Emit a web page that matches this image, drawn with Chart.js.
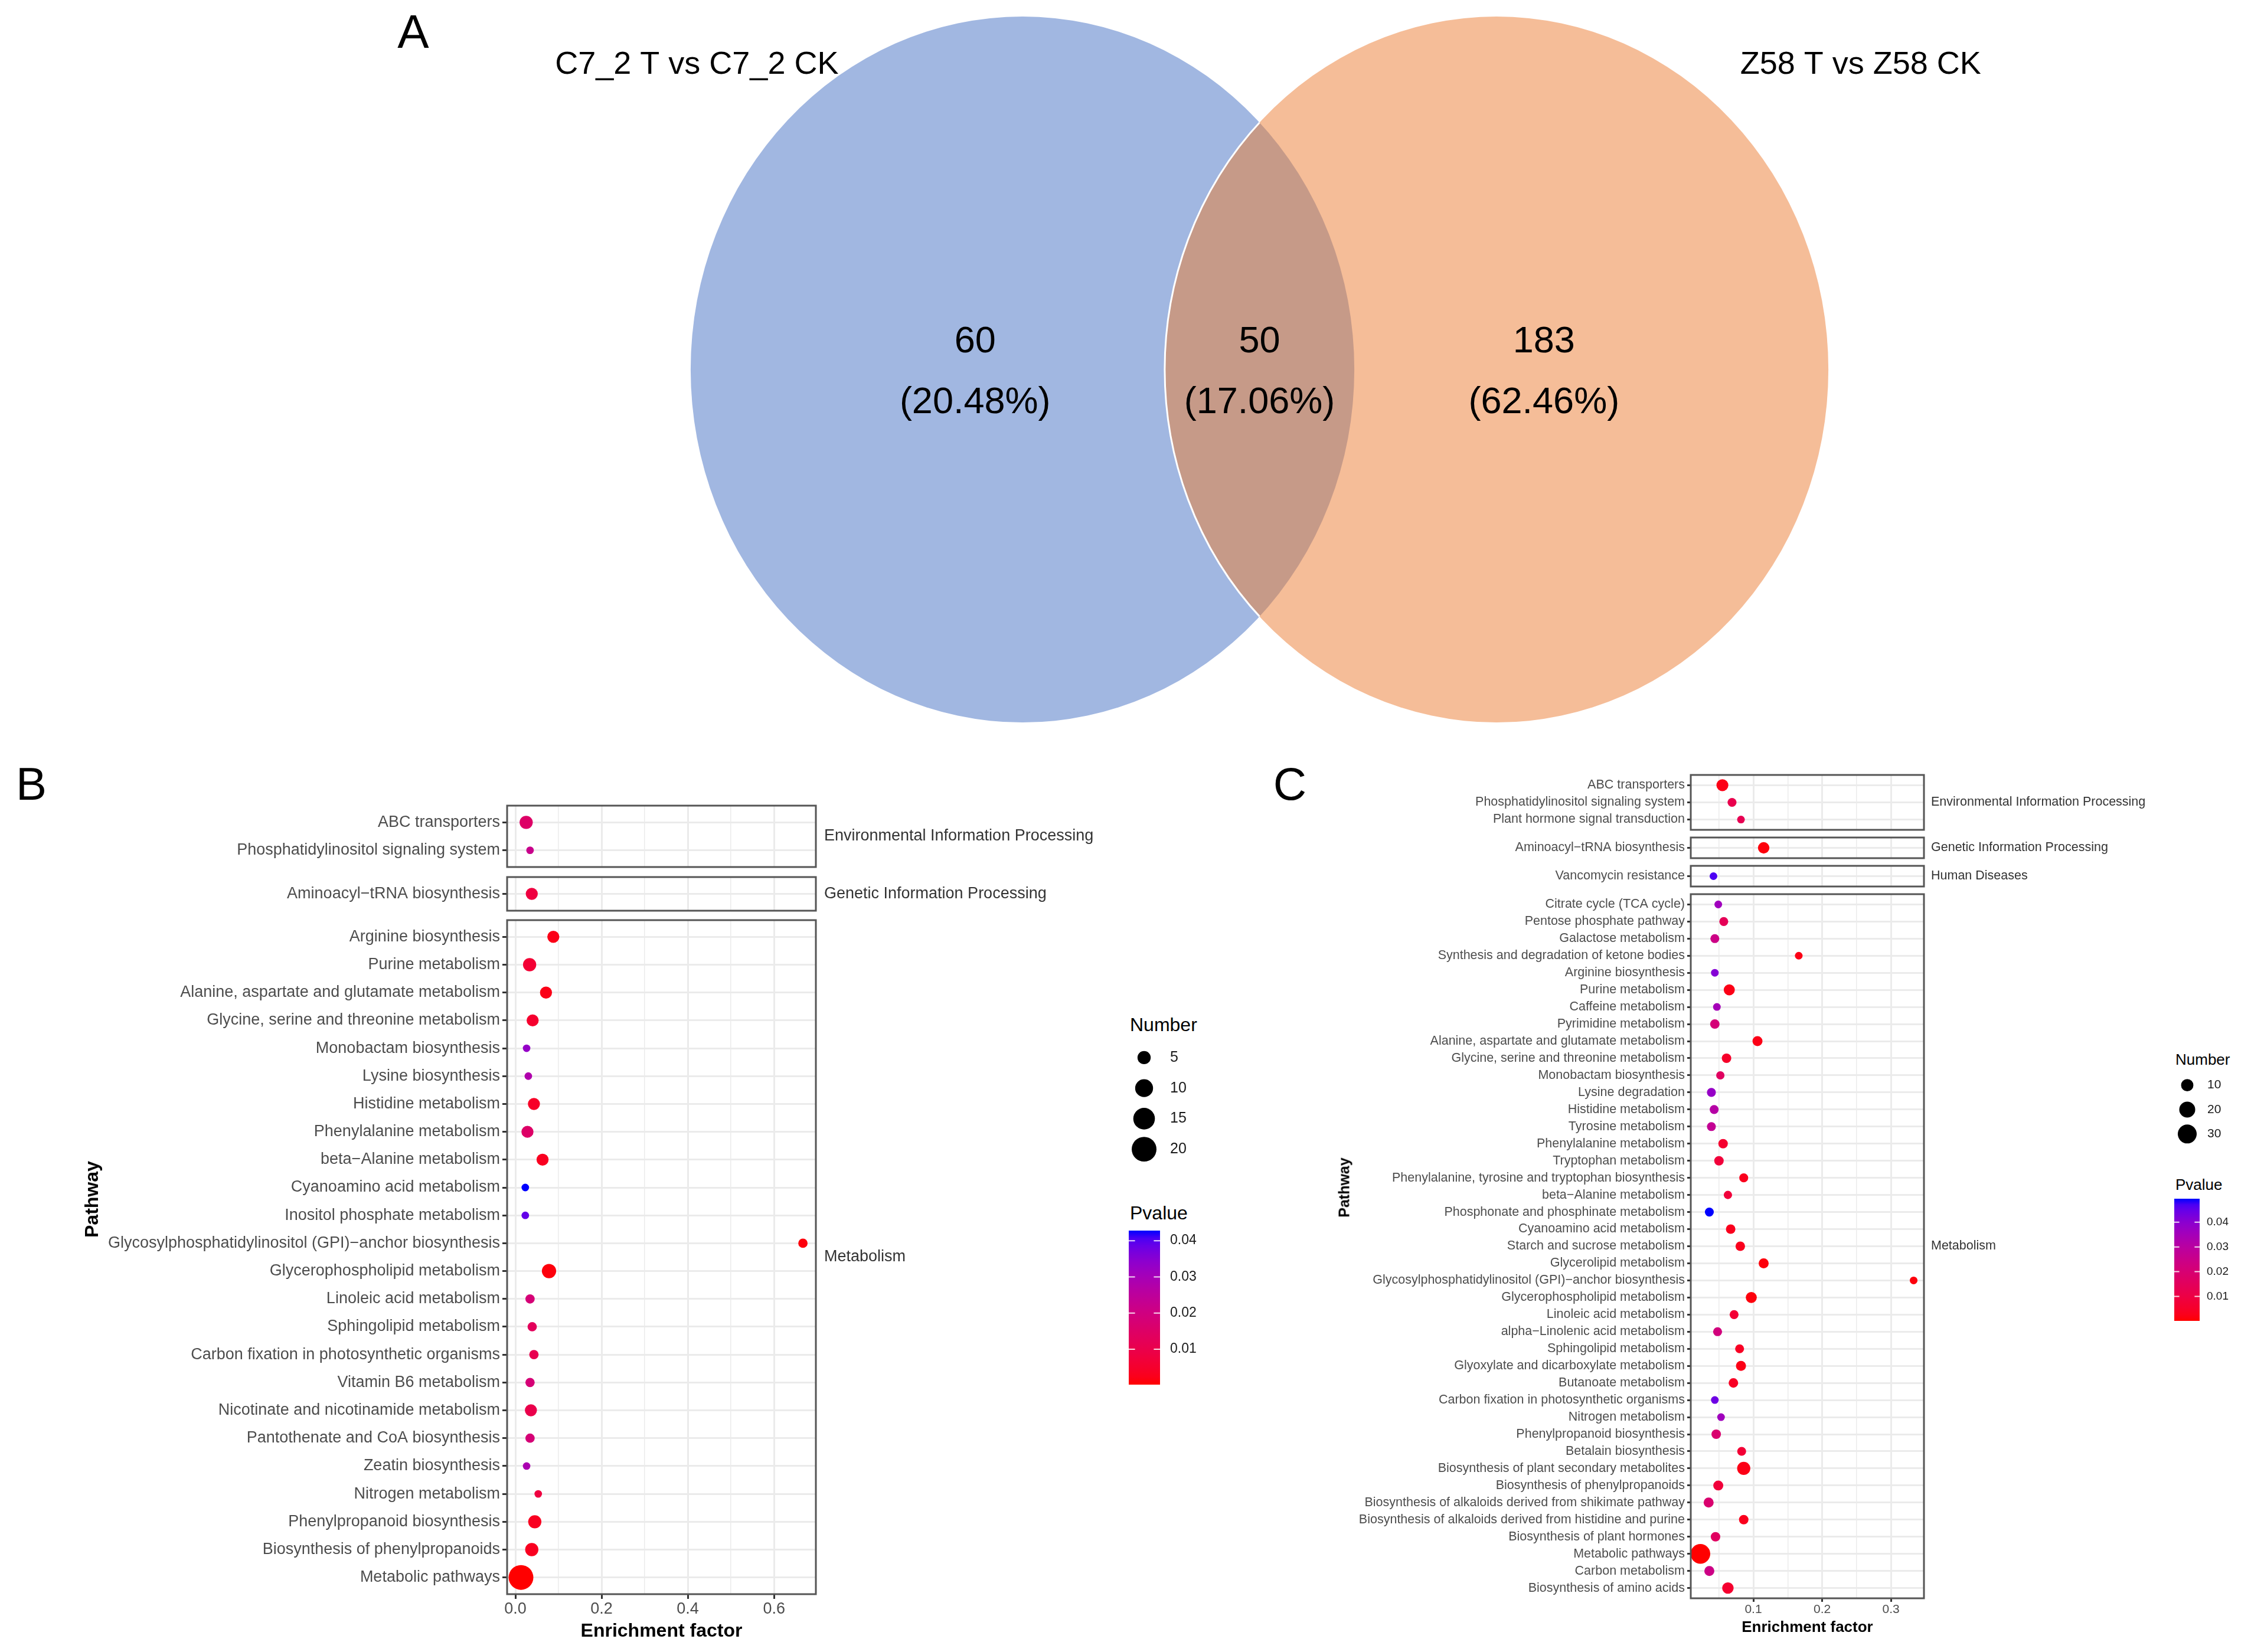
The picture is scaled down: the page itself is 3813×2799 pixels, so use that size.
<!DOCTYPE html>
<html>
<head>
<meta charset="utf-8">
<script src="https://cdn.jsdelivr.net/npm/chart.js@4.4.1/dist/chart.umd.min.js"></script>
<style>
html, body { margin: 0; padding: 0; background: #fff; }
#page { position: relative; width: 3813px; height: 2799px; overflow: hidden; font-family: "Liberation Sans", Arial, sans-serif; }
#page canvas { position: absolute; }
.txt { position: absolute; white-space: nowrap; line-height: 1; color: #000; }
</style>
</head>
<body>
<div id="page"></div>
<script>
// ---------- A: Venn ----------
const vennSets = ['C7_2 T vs C7_2 CK', 'Z58 T vs Z58 CK'];
const vennCounts = [60, 50, 183]; // only left, shared, only right

// ---------- B: KEGG enrichment, C7_2 ----------
const groupsB = ['Environmental Information Processing', 'Genetic Information Processing', 'Metabolism'];
const groupSizeB = [2, 1, 24];
const pathB = [
  'ABC transporters', 'Phosphatidylinositol signaling system',
  'Aminoacyl\u2212tRNA biosynthesis',
  'Arginine biosynthesis', 'Purine metabolism', 'Alanine, aspartate and glutamate metabolism',
  'Glycine, serine and threonine metabolism', 'Monobactam biosynthesis', 'Lysine biosynthesis',
  'Histidine metabolism', 'Phenylalanine metabolism', 'beta\u2212Alanine metabolism',
  'Cyanoamino acid metabolism', 'Inositol phosphate metabolism',
  'Glycosylphosphatidylinositol (GPI)\u2212anchor biosynthesis', 'Glycerophospholipid metabolism',
  'Linoleic acid metabolism', 'Sphingolipid metabolism', 'Carbon fixation in photosynthetic organisms',
  'Vitamin B6 metabolism', 'Nicotinate and nicotinamide metabolism', 'Pantothenate and CoA biosynthesis',
  'Zeatin biosynthesis', 'Nitrogen metabolism', 'Phenylpropanoid biosynthesis',
  'Biosynthesis of phenylpropanoids', 'Metabolic pathways'
];
const efB = [0.025, 0.034, 0.038, 0.088, 0.033, 0.071, 0.040, 0.026, 0.030, 0.043, 0.028, 0.063, 0.023, 0.023,
  0.667, 0.078, 0.034, 0.039, 0.043, 0.034, 0.036, 0.034, 0.026, 0.053, 0.045, 0.038, 0.013];
const numB = [5, 1, 4, 4, 5, 4, 4, 1, 1, 4, 4, 4, 1, 1, 2, 6, 2, 2, 2, 2, 4, 2, 1, 1, 5, 5, 20];
const pB = [0.015, 0.022, 0.008, 0.002, 0.006, 0.002, 0.005, 0.033, 0.028, 0.004, 0.015, 0.003, 0.0428, 0.039,
  0.001, 0.001, 0.018, 0.013, 0.011, 0.018, 0.010, 0.018, 0.029, 0.008, 0.003, 0.003, 0.0002];
const sizeBreaksB = [5, 10, 15, 20];

// ---------- C: KEGG enrichment, Z58 ----------
const groupsC = ['Environmental Information Processing', 'Genetic Information Processing', 'Human Diseases', 'Metabolism'];
const groupSizeC = [3, 1, 1, 41];
const pathC = [
  'ABC transporters', 'Phosphatidylinositol signaling system', 'Plant hormone signal transduction',
  'Aminoacyl\u2212tRNA biosynthesis',
  'Vancomycin resistance',
  'Citrate cycle (TCA cycle)', 'Pentose phosphate pathway', 'Galactose metabolism',
  'Synthesis and degradation of ketone bodies', 'Arginine biosynthesis', 'Purine metabolism',
  'Caffeine metabolism', 'Pyrimidine metabolism', 'Alanine, aspartate and glutamate metabolism',
  'Glycine, serine and threonine metabolism', 'Monobactam biosynthesis', 'Lysine degradation',
  'Histidine metabolism', 'Tyrosine metabolism', 'Phenylalanine metabolism', 'Tryptophan metabolism',
  'Phenylalanine, tyrosine and tryptophan biosynthesis', 'beta\u2212Alanine metabolism',
  'Phosphonate and phosphinate metabolism', 'Cyanoamino acid metabolism', 'Starch and sucrose metabolism',
  'Glycerolipid metabolism', 'Glycosylphosphatidylinositol (GPI)\u2212anchor biosynthesis',
  'Glycerophospholipid metabolism', 'Linoleic acid metabolism', 'alpha\u2212Linolenic acid metabolism',
  'Sphingolipid metabolism', 'Glyoxylate and dicarboxylate metabolism', 'Butanoate metabolism',
  'Carbon fixation in photosynthetic organisms', 'Nitrogen metabolism', 'Phenylpropanoid biosynthesis',
  'Betalain biosynthesis', 'Biosynthesis of plant secondary metabolites', 'Biosynthesis of phenylpropanoids',
  'Biosynthesis of alkaloids derived from shikimate pathway',
  'Biosynthesis of alkaloids derived from histidine and purine', 'Biosynthesis of plant hormones',
  'Metabolic pathways', 'Carbon metabolism', 'Biosynthesis of amino acids'
];
const efC = [0.055, 0.069, 0.082, 0.115, 0.042,
  0.049, 0.057, 0.044, 0.166, 0.044, 0.065, 0.047, 0.044, 0.106, 0.061, 0.052, 0.039, 0.043, 0.039,
  0.056, 0.050, 0.086, 0.063, 0.036, 0.067, 0.081, 0.115, 0.333, 0.097, 0.072, 0.048, 0.080, 0.082,
  0.071, 0.044, 0.053, 0.046, 0.083, 0.086, 0.049, 0.035, 0.086, 0.045, 0.023, 0.036, 0.063];
const numC = [9, 3, 1, 8, 1,
  1, 3, 3, 1, 1, 7, 1, 4, 5, 4, 2, 3, 3, 3, 4, 4, 3, 2, 3, 4, 4, 5, 1, 7, 3, 3, 3, 5, 4, 1, 1, 4, 3,
  12, 5, 5, 4, 4, 33, 5, 8];
const pC = [0.002, 0.012, 0.013, 0.001, 0.047,
  0.036, 0.014, 0.024, 0.002, 0.041, 0.002, 0.035, 0.021, 0.002, 0.005, 0.016, 0.038, 0.031, 0.027,
  0.006, 0.008, 0.003, 0.008, 0.0495, 0.003, 0.003, 0.001, 0.001, 0.001, 0.007, 0.022, 0.004, 0.002,
  0.004, 0.044, 0.036, 0.019, 0.007, 0.002, 0.008, 0.019, 0.003, 0.016, 0.0001, 0.024, 0.006];
const sizeBreaksC = [10, 20, 30];

const pBreaks = [0.01, 0.02, 0.03, 0.04];
const xGridB = [0, 0.1, 0.2, 0.3, 0.4, 0.5, 0.6];
const xLabelB = ['0.0', '', '0.2', '', '0.4', '', '0.6'];
const xGridC = [0.05, 0.1, 0.15, 0.2, 0.25, 0.3];
const xLabelC = ['', '0.1', '', '0.2', '', '0.3'];

// ---------- helpers ----------
const FONT = '"Liberation Sans", Arial, sans-serif';
Chart.defaults.font.family = FONT;
Chart.defaults.layout.autoPadding = false; // bubbles must not push the plot areas around
const page = document.getElementById('page');

function makeCanvas(x, y, w, h) {
  const c = document.createElement('canvas');
  c.width = Math.round(w); c.height = Math.round(h);
  c.style.left = Math.round(x) + 'px'; c.style.top = Math.round(y) + 'px';
  c.style.width = Math.round(w) + 'px'; c.style.height = Math.round(h) + 'px';
  page.appendChild(c);
  return c;
}

function addText(text, x, y, size, opts = {}) {
  const d = document.createElement('div');
  d.className = 'txt';
  d.textContent = text;
  d.style.left = x + 'px'; d.style.top = y + 'px';
  d.style.fontSize = size + 'px';
  if (opts.bold) d.style.fontWeight = 'bold';
  if (opts.color) d.style.color = opts.color;
  let tf = opts.center ? 'translate(-50%,-50%)' : 'translate(0,-50%)';
  if (opts.rotate) tf += ' rotate(-90deg)';
  d.style.transform = tf;
  page.appendChild(d);
}

// red -> blue through Lab, like ggplot's gradient
function toLab(hex) {
  const c = [1, 3, 5].map(i => parseInt(hex.slice(i, i + 2), 16) / 255)
    .map(v => v <= 0.04045 ? v / 12.92 : Math.pow((v + 0.055) / 1.055, 2.4));
  const X = (0.4124 * c[0] + 0.3576 * c[1] + 0.1805 * c[2]) / 0.95047;
  const Y = 0.2126 * c[0] + 0.7152 * c[1] + 0.0722 * c[2];
  const Z = (0.0193 * c[0] + 0.1192 * c[1] + 0.9505 * c[2]) / 1.08883;
  const f = t => t > 0.008856 ? Math.cbrt(t) : 7.787 * t + 16 / 116;
  return [116 * f(Y) - 16, 500 * (f(X) - f(Y)), 200 * (f(Y) - f(Z))];
}
function fromLab([L, a, b]) {
  const fy = (L + 16) / 116, fx = fy + a / 500, fz = fy - b / 200;
  const inv = t => t * t * t > 0.008856 ? t * t * t : (t - 16 / 116) / 7.787;
  const X = inv(fx) * 0.95047, Y = inv(fy), Z = inv(fz) * 1.08883;
  const lin = [3.2406 * X - 1.5372 * Y - 0.4986 * Z, -0.9689 * X + 1.8758 * Y + 0.0415 * Z, 0.0557 * X - 0.2040 * Y + 1.0570 * Z];
  const s = lin.map(v => {
    v = Math.min(1, Math.max(0, v));
    return Math.round(255 * (v <= 0.0031308 ? 12.92 * v : 1.055 * Math.pow(v, 1 / 2.4) - 0.055));
  });
  return 'rgb(' + s.join(',') + ')';
}
const labLow = toLab('#FF0000'), labHigh = toLab('#0000FF');
function pColor(p, lim) {
  const t = Math.min(1, Math.max(0, (p - lim[0]) / (lim[1] - lim[0])));
  return fromLab(labLow.map((v, i) => v + t * (labHigh[i] - v)));
}

const baseOpts = { responsive: false, animation: false, devicePixelRatio: 1, events: [] };
// chart.js reserves half a label above/below vertical axes; the facets don't want that
const noEdgePad = ax => { ax.paddingTop = 0; ax.paddingBottom = 0; ax.paddingLeft = 0; ax.paddingRight = 0; };

// ---------- Venn ----------
const vennCenters = [{ x: -0.5, y: 0 }, { x: 0.5, y: 0 }];
const vennR = 0.7;
const vennLabelX = [-0.6, 0, 0.6];
const vennSetPos = [{ x: -1.187, y: 0.604 }, { x: 1.268, y: 0.604 }];

const vennPlugin = {
  id: 'venn',
  beforeDatasetsDraw(chart) {
    const { ctx, scales: { x, y } } = chart;
    const e = vennCenters.map(c => ({
      cx: x.getPixelForValue(c.x), cy: y.getPixelForValue(c.y),
      rx: x.getPixelForValue(c.x + vennR) - x.getPixelForValue(c.x),
      ry: y.getPixelForValue(c.y) - y.getPixelForValue(c.y + vennR)
    }));
    const path = k => { ctx.beginPath(); ctx.ellipse(e[k].cx, e[k].cy, e[k].rx, e[k].ry, 0, 0, Math.PI * 2); };
    ctx.save();
    path(0); ctx.fillStyle = '#A1B7E1'; ctx.fill();
    path(1); ctx.fillStyle = '#F5BD98'; ctx.fill();
    ctx.save();
    path(0); ctx.clip();
    path(1); ctx.fillStyle = '#C69A88'; ctx.fill();
    ctx.strokeStyle = '#fff'; ctx.lineWidth = 3; ctx.stroke();
    ctx.restore();

    const total = vennCounts.reduce((a, b) => a + b, 0);
    ctx.fillStyle = '#000'; ctx.textAlign = 'center'; ctx.textBaseline = 'middle';
    ctx.font = '63px ' + FONT;
    vennCounts.forEach((v, i) => {
      const px = x.getPixelForValue(vennLabelX[i]);
      ctx.fillText(String(v), px, y.getPixelForValue(0.054));
      ctx.fillText('(' + (v / total * 100).toFixed(2) + '%)', px, y.getPixelForValue(-0.066));
    });
    ctx.font = '54px ' + FONT;
    vennSets.forEach((s, i) => ctx.fillText(s, x.getPixelForValue(vennSetPos[i].x), y.getPixelForValue(vennSetPos[i].y)));
    ctx.restore();
  }
};

new Chart(makeCanvas(0, 0, 3813, 1250), {
  type: 'scatter',
  data: { datasets: [{ data: vennCenters, pointRadius: 0 }] },
  options: {
    ...baseOpts,
    layout: { padding: 0 },
    plugins: { legend: { display: false }, tooltip: { enabled: false } },
    scales: {
      x: { display: false, min: -2.6569, max: 2.0915 },
      y: { display: false, min: -0.7304, max: 0.7328 }
    }
  },
  plugins: [vennPlugin]
});

// ---------- dot plots ----------
const panelPlugin = {
  id: 'strip',
  afterDraw(chart, args, o) {
    const a = chart.chartArea, ctx = chart.ctx;
    ctx.save();
    ctx.strokeStyle = '#555'; ctx.lineWidth = 3;
    ctx.strokeRect(a.left, a.top, a.right - a.left, a.bottom - a.top);
    ctx.fillStyle = '#333'; ctx.font = o.size + 'px ' + FONT;
    ctx.textAlign = 'left'; ctx.textBaseline = 'middle';
    ctx.fillText(o.text, a.right + o.gap, (a.top + a.bottom) / 2);
    ctx.restore();
  }
};

function dotPanel(cfg, groups, sizes, names, ef, num, p) {
  const lim = [Math.min(...p), Math.max(...p)];
  let start = 0, top = cfg.top;
  groups.forEach((g, gi) => {
    const idx = names.slice(start, start + sizes[gi]).map((_, k) => start + k);
    start += sizes[gi];
    const isLast = gi === groups.length - 1;
    const n = idx.length;
    const boxH = (n - 1 + 1.2) * cfg.unit;
    const axisH = isLast ? cfg.axisH : 0;
    const canvas = makeCanvas(cfg.left, top - 3, cfg.width, boxH + 3 + (isLast ? axisH : 3));
    const padRight = cfg.width - cfg.axisW - cfg.plotW;
    new Chart(canvas, {
      type: 'bubble',
      data: {
        datasets: [{
          data: idx.map((j, i) => ({ x: ef[j], y: i, r: cfg.size(num[j]) })),
          backgroundColor: idx.map(j => pColor(p[j], lim)),
          borderWidth: 0
        }]
      },
      options: {
        ...baseOpts,
        layout: { autoPadding: false, padding: { left: 0, top: 3, right: padRight, bottom: isLast ? 0 : 3 } },
        plugins: {
          legend: { display: false }, tooltip: { enabled: false },
          strip: { text: g, size: cfg.labelSize, gap: cfg.stripGap }
        },
        scales: {
          x: {
            type: 'linear', min: cfg.xMin, max: cfg.xMax,
            afterBuildTicks: ax => { ax.ticks = cfg.grid.map(v => ({ value: v })); },
            afterFit: ax => { ax.height = axisH; noEdgePad(ax); },
            grid: {
              color: '#EBEBEB',
              lineWidth: c => cfg.gridLabels[c.index] ? 3 : 1.5,
              drawTicks: isLast, tickLength: cfg.tickLen, tickWidth: 3,
              tickColor: c => cfg.gridLabels[c.index] ? '#333' : 'rgba(0,0,0,0)'
            },
            border: { display: false },
            ticks: {
              display: isLast, autoSkip: false, maxRotation: 0, padding: 1,
              color: '#4D4D4D', font: { size: cfg.tickSize },
              callback: (v, i) => cfg.gridLabels[i]
            },
            title: {
              display: isLast, text: 'Enrichment factor', color: '#000', padding: 0,
              font: { size: cfg.titleSize, weight: 'bold' }
            }
          },
          y: {
            type: 'linear', reverse: true, min: -0.6, max: n - 1 + 0.6,
            afterBuildTicks: ax => { ax.ticks = idx.map((_, i) => ({ value: i })); },
            afterFit: ax => { ax.width = cfg.axisW; noEdgePad(ax); },
            grid: { color: '#EBEBEB', lineWidth: 3, drawTicks: true, tickLength: cfg.tickLen, tickWidth: 3, tickColor: '#333' },
            border: { display: false },
            ticks: {
              autoSkip: false, padding: 4, color: '#4D4D4D', font: { size: cfg.labelSize },
              callback: v => names[idx[v]]
            }
          }
        }
      },
      plugins: [panelPlugin]
    });
    top += boxH + cfg.gap;
  });
  return lim;
}

const sizeB = n => Math.sqrt(20 + 21 * n);
const sizeC = n => Math.sqrt(35 + 7.4 * n);

const limB = dotPanel({
  left: 0, width: 1902, axisW: 859, plotW: 523, top: 1365, unit: 47.2, gap: 17,
  xMin: -0.0192, xMax: 0.697, grid: xGridB, gridLabels: xLabelB,
  labelSize: 27, tickSize: 27, titleSize: 32, tickLen: 8, axisH: 82, stripGap: 14, size: sizeB
}, groupsB, groupSizeB, pathB, efB, numB, pB);

const limC = dotPanel({
  left: 2200, width: 1450, axisW: 664, plotW: 395, top: 1313, unit: 28.95, gap: 13.3,
  xMin: 0.009, xMax: 0.348, grid: xGridC, gridLabels: xLabelC,
  labelSize: 21.5, tickSize: 21, titleSize: 26, tickLen: 6, axisH: 65, stripGap: 12, size: sizeC
}, groupsC, groupSizeC, pathC, efC, numC, pC);

// ---------- legends ----------
const sideLabels = {
  id: 'sideLabels',
  afterDatasetsDraw(chart, args, o) {
    const ctx = chart.ctx;
    ctx.save();
    ctx.fillStyle = '#1A1A1A'; ctx.font = o.size + 'px ' + FONT;
    ctx.textAlign = 'left'; ctx.textBaseline = 'middle';
    chart.getDatasetMeta(0).data.forEach((pt, i) => ctx.fillText(String(o.labels[i]), pt.x + o.gap, pt.y));
    ctx.restore();
  }
};

function sizeLegend(cx, cy0, step, breaks, sizeFn, gap, fontSize) {
  const w = 200;
  new Chart(makeCanvas(cx - w / 5, cy0 - step / 2, w, step * breaks.length), {
    type: 'bubble',
    data: { datasets: [{ data: breaks.map((b, i) => ({ x: 0, y: i, r: sizeFn(b) })), backgroundColor: '#000', borderWidth: 0, clip: false }] },
    options: {
      ...baseOpts,
      layout: { autoPadding: false, padding: 0 },
      plugins: { legend: { display: false }, tooltip: { enabled: false }, sideLabels: { labels: breaks, gap, size: fontSize } },
      scales: {
        x: { display: false, min: -1, max: 4 },
        y: { display: false, reverse: true, min: -0.5, max: breaks.length - 0.5 }
      }
    },
    plugins: [sideLabels]
  });
}

const barTicks = {
  id: 'barTicks',
  afterDatasetsDraw(chart) {
    const a = chart.chartArea, ctx = chart.ctx, y = chart.scales.y;
    const len = (a.right - a.left) / 5;
    ctx.save();
    ctx.strokeStyle = 'rgba(255,255,255,0.85)'; ctx.lineWidth = 2;
    pBreaks.forEach(v => {
      const py = y.getPixelForValue(v);
      ctx.beginPath();
      ctx.moveTo(a.left, py); ctx.lineTo(a.left + len, py);
      ctx.moveTo(a.right - len, py); ctx.lineTo(a.right, py);
      ctx.stroke();
    });
    ctx.restore();
  }
};

function colorBar(left, top, w, h, labelW, pad, fontSize, lim) {
  new Chart(makeCanvas(left, top - 2, w + labelW, h + 4), {
    type: 'bar',
    data: {
      labels: ['Pvalue'],
      datasets: [{
        data: [[lim[0], lim[1]]],
        backgroundColor: c => {
          const a = c.chart.chartArea;
          if (!a) return '#f00';
          const g = c.chart.ctx.createLinearGradient(0, a.bottom, 0, a.top);
          for (let k = 0; k <= 20; k++) g.addColorStop(k / 20, pColor(lim[0] + k / 20 * (lim[1] - lim[0]), lim));
          return g;
        },
        borderWidth: 0, barPercentage: 1, categoryPercentage: 1
      }]
    },
    options: {
      ...baseOpts,
      layout: { autoPadding: false, padding: { top: 2, bottom: 2, left: 0, right: 0 } },
      plugins: { legend: { display: false }, tooltip: { enabled: false } },
      scales: {
        x: { display: false },
        y: {
          position: 'right', min: lim[0], max: lim[1],
          afterBuildTicks: ax => { ax.ticks = pBreaks.map(v => ({ value: v })); },
          afterFit: ax => { ax.width = labelW; noEdgePad(ax); },
          grid: { display: false, drawTicks: false },
          border: { display: false },
          ticks: { padding: pad, color: '#1A1A1A', font: { size: fontSize }, callback: v => v.toFixed(2) }
        }
      }
    },
    plugins: [barTicks]
  });
}

addText('Number', 1914, 1736, 32);
sizeLegend(1938, 1792, 51.7, sizeBreaksB, sizeB, 44, 25);
addText('Pvalue', 1914, 2055, 32);
colorBar(1912, 2085, 53, 261, 100, 17, 23, limB);

addText('Number', 3685, 1795, 26);
sizeLegend(3705, 1839, 41.3, sizeBreaksC, sizeC, 34, 21);
addText('Pvalue', 3685, 2007, 26);
colorBar(3683, 2031, 43, 207, 84, 12, 19, limC);

// ---------- panel letters and y titles ----------
addText('A', 700, 54, 80, { center: true });
addText('B', 53, 1328, 78, { center: true });
addText('C', 2185, 1328, 78, { center: true });
addText('Pathway', 155, 2032, 32, { center: true, bold: true, rotate: true });
addText('Pathway', 2277, 2012, 25, { center: true, bold: true, rotate: true });
</script>
</body>
</html>
